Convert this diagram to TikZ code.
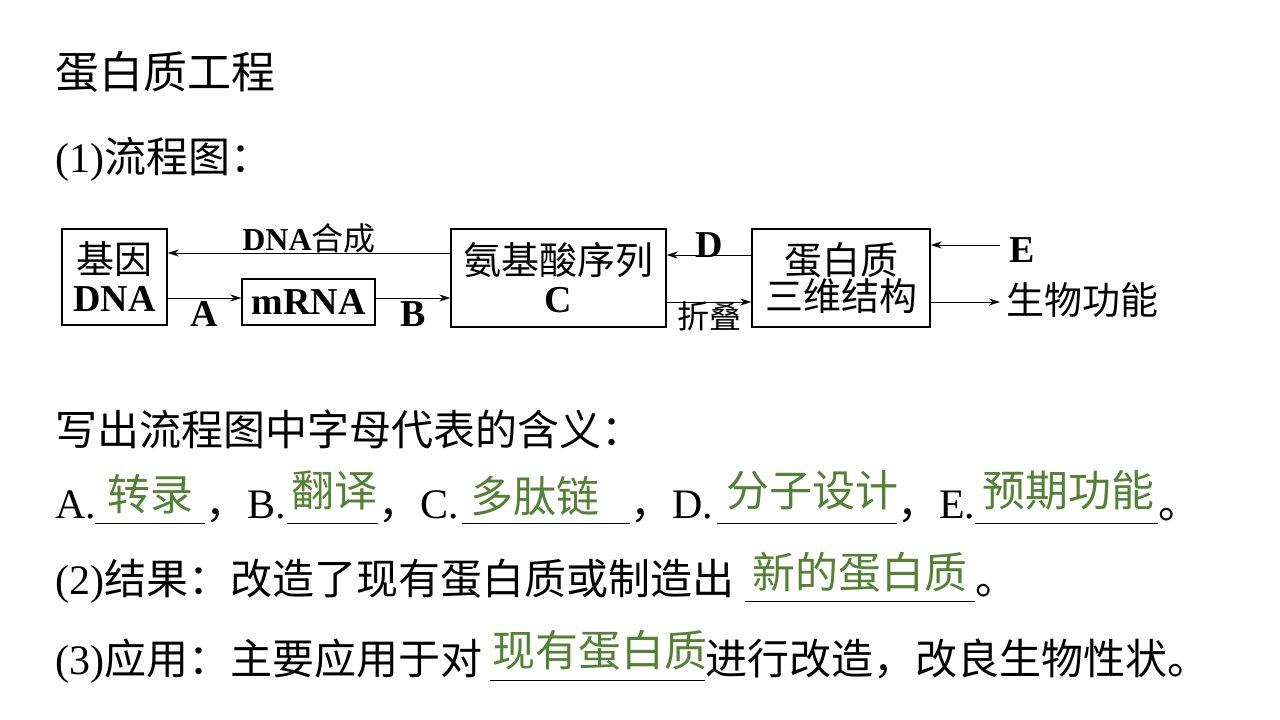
\documentclass[tikz,border=0pt]{standalone}
\usepackage{fontspec}
\setmainfont{Noto Sans CJK SC}
\newfontfamily\lat{Liberation Serif}
\usetikzlibrary{arrows.meta}
\definecolor{ans}{RGB}{84,130,53}
\begin{document}
\begin{tikzpicture}[x=1pt,y=-1pt,
  box/.style={draw,line width=1.4pt,inner sep=0pt},
  arr/.style={-{Stealth[length=11pt,width=7pt]},line width=0.9pt},
  dl/.style={inner sep=1pt,font=\fontsize{38}{42}\selectfont},
  body/.style={anchor=base west,inner sep=0pt,font=\fontsize{42}{44}\selectfont},
  an/.style={anchor=base,inner sep=0pt,text=ans,font=\fontsize{43}{44}\selectfont},
  ul/.style={line width=0.6pt}]
\useasboundingbox (0,0) rectangle (1280,720);
\node[body,font=\fontsize{44}{46}\selectfont] (t) at (55,88) {蛋白质工程};
\node[body] (s1) at (55,172) {{\lat (1)}流程图：};
% diagram
\node[box,minimum width=105pt,minimum height=96pt] (dna) at (114.5,277) {};
\node[dl,align=center] (dnat) at (dna) {基因\\[-4pt]{\lat\bfseries DNA}};
\node[box,minimum width=133pt,minimum height=46pt,dl] (mrna) at (308.5,302) {\lat\bfseries mRNA};
\node[box,minimum width=215pt,minimum height=98pt] (aa) at (558.5,278) {};
\node[dl,align=center] (aat) at (aa) {氨基酸序列\\[-4pt]{\lat\bfseries C}};
\node[box,minimum width=178pt,minimum height=98pt] (pr) at (841,278) {};
\node[dl,align=center] (prt) at (pr) {蛋白质\\[-6pt]三维结构};
\coordinate (e0) at (1000,245);
\coordinate (f1) at (1000,302);
\draw[arr] (aa.west|-0,253) -- (dna.east|-0,253) node[midway,above=-2pt,dl,font=\fontsize{32}{34}\selectfont] (l1) {{\lat\bfseries DNA}合成};
\draw[arr] (dna.east|-0,298) -- (mrna.west|-0,298) node[midway,below=2pt,dl] (lA) {\lat\bfseries A};
\draw[arr] (mrna.east|-0,298) -- (aa.west|-0,298) node[midway,below=2pt,dl] (lB) {\lat\bfseries B};
\draw[arr] (pr.west|-0,255) -- (aa.east|-0,255) node[midway,above=-4pt,dl] (lD) {\lat\bfseries D};
\draw[arr] (aa.east|-0,302) -- (pr.west|-0,302) node[midway,below=-2pt,dl,font=\fontsize{32}{34}\selectfont] (lz) {折叠};
\draw[arr] (e0) -- (pr.east|-e0);
\node[dl,anchor=west] (lE) at (1008,250) {\lat\bfseries E};
\draw[arr] (pr.east|-f1) -- (f1);
\node[dl,anchor=west] (out) at (1005,300) {生物功能};
% text lines
\node[body] (s2) at (55,445) {写出流程图中字母代表的含义：};
\node[body] (a1) at (55,518) {\lat A.};
\draw[ul] (95,523) -- (205,523);
\node[an] (x1) at (150,510) {转录};
\node[body] (a2) at (205,518) {，{\lat B.}};
\draw[ul] (287,523) -- (378,523);
\node[an] (x2) at (334,506) {翻译};
\node[body] (a3) at (378,518) {，{\lat C.}};
\draw[ul] (462,523) -- (630,523);
\node[an] (x3) at (535,512) {多肽链};
\node[body] (a4) at (630,518) {，{\lat D.}};
\draw[ul] (717,523) -- (897,523);
\node[an] (x4) at (812,506) {分子设计};
\node[body] (a5) at (897,518) {，{\lat E.}};
\draw[ul] (975,523) -- (1158,523);
\node[an] (x5) at (1068,506) {预期功能};
\node[body] (a6) at (1158,518) {。};
\node[body] (s3) at (55,594) {{\lat (2)}结果：改造了现有蛋白质或制造出};
\draw[ul] (745,601) -- (975,601);
\node[an] (x6) at (860,588) {新的蛋白质};
\node[body] (a7) at (975,594) {。};
\node[body] (s4) at (55,674) {{\lat (3)}应用：主要应用于对};
\draw[ul] (490,680) -- (705,680);
\node[an] (x7) at (600,666) {现有蛋白质};
\node[body] (a8) at (705,674) {进行改造，改良生物性状。};
\end{tikzpicture}
\end{document}
